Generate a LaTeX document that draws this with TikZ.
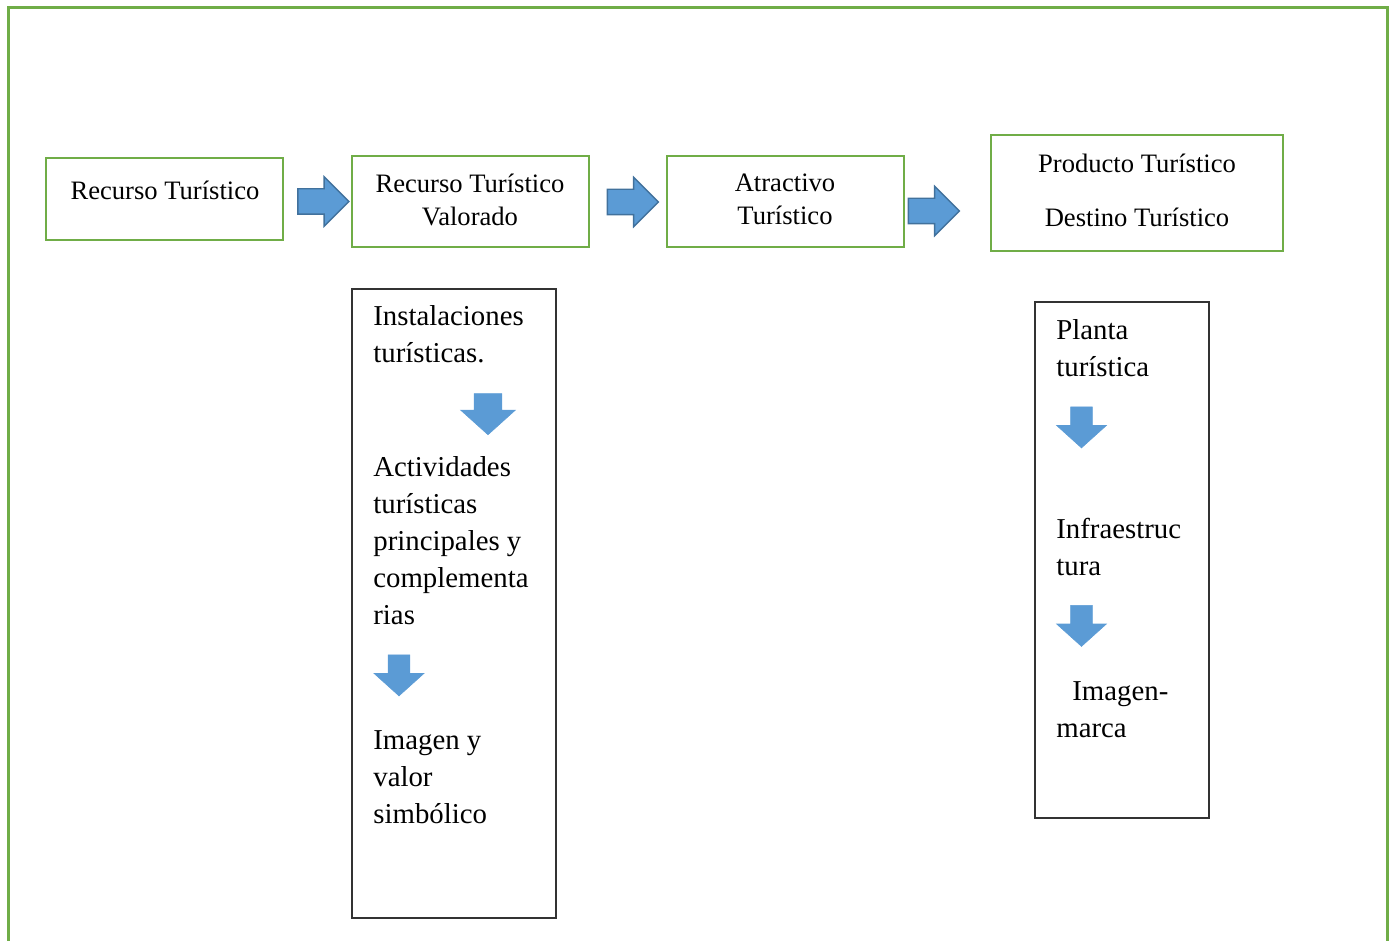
\documentclass[tikz,border=0pt]{standalone}
\usepackage{fontspec}
\setmainfont{Liberation Serif}
\usetikzlibrary{shapes.arrows}
\definecolor{framegreen}{HTML}{70AD47}
\definecolor{arrowblue}{HTML}{5B9BD5}
\definecolor{arrowedge}{HTML}{41719C}

\begin{document}
\begin{tikzpicture}[x=0.5pt,y=-0.5pt,
    stagebox/.style={draw=framegreen,line width=1.2pt,inner sep=0pt,minimum width=118.5pt},
    listbox/.style={draw=black!80,line width=0.7pt,inner sep=0pt},
    stagetext/.style={align=center,inner sep=0pt,font=\fontsize{13.3}{16.5}\selectfont},
    listtext/.style={align=left,anchor=west,inner sep=0pt,font=\fontsize{14.4}{18.5}\selectfont},
    rightarrow/.style={single arrow,fill=arrowblue,draw=arrowedge,line width=0.7pt,inner sep=0pt,
        text height=12pt,text depth=0pt,minimum width=24.5pt,minimum height=25.5pt,single arrow head extend=6pt},
    downarrow/.style={single arrow,rotate=-90,fill=arrowblue,draw=arrowblue,line width=0.3pt,inner sep=0pt,
        text height=10.5pt,text depth=0pt,minimum width=24.5pt,minimum height=20.5pt,
        single arrow head extend=7pt,single arrow tip angle=96}]
    \useasboundingbox (0,0) rectangle (1394,941);

    % Frame
    \draw[framegreen,line width=1.5pt] (8,941) -- (8,8) -- (1387,8) -- (1387,941);

    % Stages
    \node[stagebox,minimum height=41pt] (recurso) at (164.5,199) {};
    \node[stagebox,minimum height=45.5pt] (valorado) at (470.5,201.5) {};
    \node[stagebox,minimum height=45.5pt] (atractivo) at (785.5,201.5) {};
    \node[stagebox,minimum width=146pt,minimum height=58pt] (producto) at (1137,193) {};

    \node[stagetext] (recursotext) at (165,190) {Recurso Turístico};
    \node[stagetext] (valoradotext) at (470,199.5) {Recurso Turístico\\Valorado};
    \node[stagetext] (atractivotext) at (785,199.5) {Atractivo\\Turístico};
    \node[stagetext] (productotext) at (1137,190) {Producto Turístico\\[10.5pt]Destino Turístico};

    % Arrows between stages
    \node[rightarrow] (arrowa) at (317,201.5) {};
    \node[rightarrow] (arrowb) at (626.5,202) {};
    \node[rightarrow] (arrowc) at (927.5,211) {};

    % Lists
    \node[listbox,minimum width=102pt,minimum height=314.5pt] (valoradolist) at (454,603.5) {};
    \node[listbox,minimum width=87pt,minimum height=258pt] (productolist) at (1122,560) {};

    \node[listtext] (instalaciones) at (373,334.5) {Instalaciones\\turísticas.};
    \node[downarrow,text height=13.5pt,minimum width=27pt,single arrow head extend=6.75pt] (downa) at (488,408) {};
    \node[listtext] (actividades) at (373,540.5) {Actividades\\turísticas\\principales y\\complementa\\rias};
    \node[downarrow] (downb) at (399,670.5) {};
    \node[listtext] (imagen) at (373,777) {Imagen y\\valor\\simbólico};

    \node[listtext] (planta) at (1056,348.5) {Planta\\turística};
    \node[downarrow] (downc) at (1081.5,422.5) {};
    \node[listtext] (infraestructura) at (1056,547.5) {Infraestruc\\tura};
    \node[downarrow] (downd) at (1081.5,621) {};
    \node[listtext] (marca) at (1056,710) {\hspace*{8pt}Imagen-\\marca};
\end{tikzpicture}
\end{document}
